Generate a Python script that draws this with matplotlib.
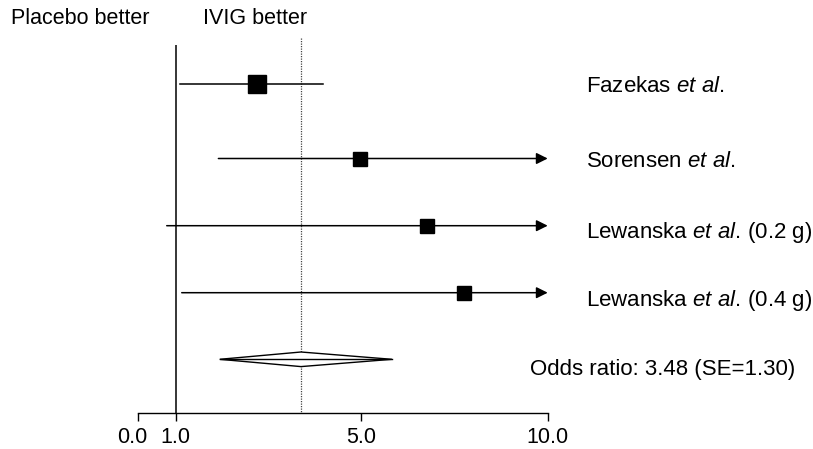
import numpy as np
import matplotlib
matplotlib.use("Agg")
import matplotlib.pyplot as plt
import matplotlib.transforms as mtransforms
from matplotlib.patches import Polygon

plt.rcParams['font.family'] = ['Liberation Sans', 'DejaVu Sans']
plt.rcParams['mathtext.fontset'] = 'custom'
plt.rcParams['mathtext.rm'] = 'Liberation Sans'
plt.rcParams['mathtext.it'] = 'Liberation Sans:italic'

# data
studies = ['$\\mathrm{Fazekas}\\ \\mathit{et\\ al.}$',
           '$\\mathrm{Sorensen}\\ \\mathit{et\\ al.}$',
           '$\\mathrm{Lewanska}\\ \\mathit{et\\ al.}\\,\\mathrm{(0.2\\ g)}$',
           '$\\mathrm{Lewanska}\\ \\mathit{et\\ al.}\\,\\mathrm{(0.4\\ g)}$']
estimates = [2.75, 4.98, 6.76, 7.75]
ci_lower = [1.09, 1.92, 0.76, 1.13]
ci_upper = [4.17, 10.0, 10.0, 10.0]
truncated = [False, True, True, True]
pooled_center = 3.7
pooled_lower = 1.95
pooled_upper = 5.82
pooled_label = 'Odds ratio: 3.48 (SE=1.30)'
tick_values = [0.0, 1.0, 5.0, 10.0]
tick_labels = ['0.0', '1.0', '5.0', '10.0']

# the printed axis is not evenly spaced, so use a piecewise scale through the ticks
anchor_pos = [0.0, 37.4, 223.0, 409.4]


def fwd(x):
    x = np.asarray(x, dtype=float)
    y = np.interp(x, tick_values, anchor_pos)
    y = np.where(x < 0, x * 37.4, y)
    return np.where(x > 10, 409.4 + (x - 10) * 37.28, y)


def inv(p):
    p = np.asarray(p, dtype=float)
    x = np.interp(p, anchor_pos, tick_values)
    x = np.where(p < 0, p / 37.4, x)
    return np.where(p > 409.4, 10 + (p - 409.4) / 37.28, x)


W, H = 813, 449
fig = plt.figure(figsize=(W / 100, H / 100), dpi=100)
ax = fig.add_axes([138.3 / W, (H - 412.7) / H, 409.4 / W, 412.7 / H])
ax.set_xscale('function', functions=(fwd, inv))
ax.set_xlim(0, 10)
ax.set_ylim(412.7, 0)

row_y = [84, 158.5, 225.7, 292.7]
pooled_y = 359.3
marker_px = [18, 14, 14, 14]

# reference lines
ax.vlines(1.0, 45, 412.7, color='black', lw=1.1)
ax.vlines(pooled_center, 38, 412.7, color='#444444', lw=0.9, linestyles=(0, (1, 1)))

for y, est, lo, hi, tr, ms in zip(row_y, estimates, ci_lower, ci_upper, truncated, marker_px):
    if tr:
        ax.annotate('', xy=(hi, y), xytext=(lo, y),
                    arrowprops=dict(arrowstyle='-|>', mutation_scale=17, color='black',
                                    lw=1.1, shrinkA=0, shrinkB=0))
    else:
        ax.plot([lo, hi], [y, y], color='black', lw=1.1)
    ax.plot(est, y, 's', color='black', markersize=ms * 0.72, zorder=3)

# pooled diamond
diamond = Polygon([(pooled_lower, pooled_y), (pooled_center, pooled_y - 7.3),
                   (pooled_upper, pooled_y), (pooled_center, pooled_y + 7.3)],
                  closed=True, facecolor='white', edgecolor='black', lw=1.0, zorder=3)
ax.add_patch(diamond)
ax.plot([pooled_lower, pooled_upper], [pooled_y, pooled_y], color='black', lw=1.0, zorder=4)

for side in ['left', 'top', 'right']:
    ax.spines[side].set_visible(False)
ax.spines['bottom'].set_linewidth(1.0)
ax.set_yticks([])
ax.set_xticks(tick_values)
ax.set_xticklabels(tick_labels)
ax.minorticks_off()
ax.tick_params(axis='x', direction='out', length=5.5, width=1.0, pad=4.5, labelsize=15.5)
ax.patch.set_alpha(0)

# nudge "0.0" left so it clears "1.0", as printed
first = ax.get_xticklabels()[0]
first.set_transform(first.get_transform() +
                    mtransforms.ScaledTranslation(-6 / 100, 0, fig.dpi_scale_trans))

# text
fig.text(11 / W, 1 - 19 / H, 'Placebo better', fontsize=15.5, va='center', ha='left')
fig.text(203 / W, 1 - 19 / H, 'IVIG better', fontsize=15.5, va='center', ha='left')
label_y = [86.5, 161.5, 232, 300.5]
for name, y in zip(studies, label_y):
    fig.text(586 / W, 1 - y / H, name, fontsize=16, va='center', ha='left')
fig.text(530 / W, 1 - 370 / H, pooled_label, fontsize=16, va='center', ha='left')

fig.savefig('out.png', dpi=100)
plt.close(fig)
